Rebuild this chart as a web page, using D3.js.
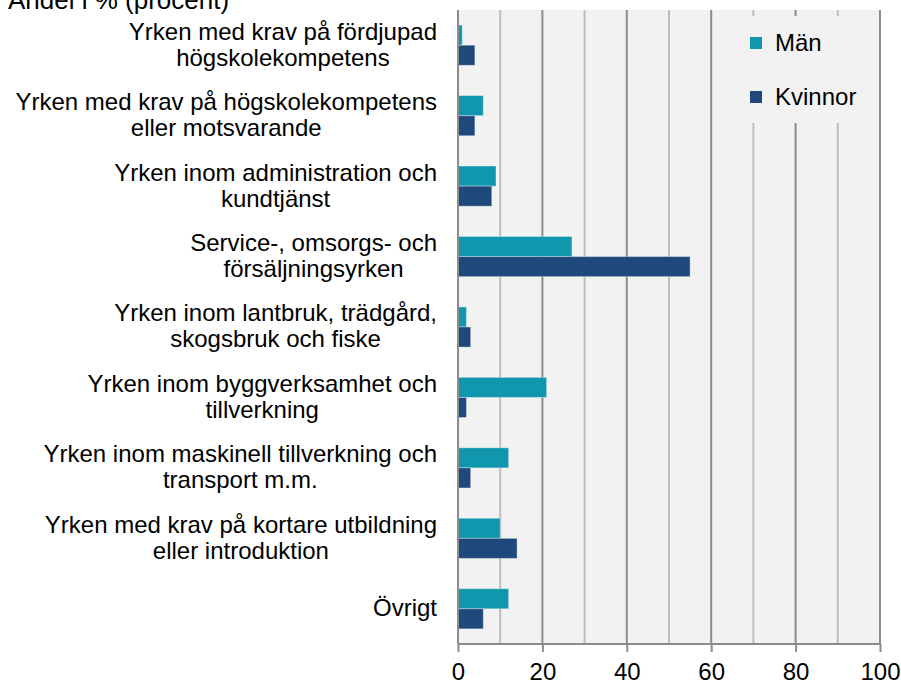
<!DOCTYPE html>
<html>
<head>
<meta charset="utf-8">
<script src="https://cdn.jsdelivr.net/npm/d3@7"></script>
<style>
  html, body { margin: 0; padding: 0; background: #ffffff; }
  svg { display: block; font-family: "Liberation Sans", Arial, sans-serif; }
</style>
</head>
<body>
<svg id="chart" width="901" height="684"></svg>
<script>
// Yrkesgrupper (två rader per etikett)
const categories = [
  ["Yrken med krav på fördjupad", "högskolekompetens"],
  ["Yrken med krav på högskolekompetens", "eller motsvarande"],
  ["Yrken inom administration och", "kundtjänst"],
  ["Service-, omsorgs- och", "försäljningsyrken"],
  ["Yrken inom lantbruk, trädgård,", "skogsbruk och fiske"],
  ["Yrken inom byggverksamhet och", "tillverkning"],
  ["Yrken inom maskinell tillverkning och", "transport m.m."],
  ["Yrken med krav på kortare utbildning", "eller introduktion"],
  ["Övrigt"]
];
const seriesNames = ["Män", "Kvinnor"];
const men   = [1, 6, 9, 27, 2, 21, 12, 10, 12];
const women = [4, 4, 8, 55, 3, 2, 3, 14, 6];
const xTicks = [0, 20, 40, 60, 80, 100];
const gridValues = [10, 20, 30, 40, 50, 60, 70, 80, 90, 100];
const titleText = "Andel i % (procent)";

const colors = { "Män": "#1097ad", "Kvinnor": "#1f497d" };

const svg = d3.select("#chart");
const plot = { left: 458, right: 880, top: 10, bottom: 644 };
const fontSize = 24;

const x = d3.scaleLinear().domain([0, 100]).range([plot.left, plot.right]);
const y = d3.scaleBand().domain(d3.range(categories.length))
  .range([plot.top, plot.bottom]).paddingInner(0.43).paddingOuter(0.215);
const ySub = d3.scaleBand().domain(seriesNames).range([0, y.bandwidth()]);

// plot background
svg.append("rect")
  .attr("x", plot.left).attr("y", plot.top)
  .attr("width", plot.right - plot.left).attr("height", plot.bottom - plot.top)
  .attr("fill", "#f2f2f2");

// vertical gridlines
svg.append("g").selectAll("line").data(gridValues).join("line")
  .attr("x1", d => x(d)).attr("x2", d => x(d))
  .attr("y1", plot.top).attr("y2", plot.bottom)
  .attr("stroke", d => d % 20 === 0 ? "#8c8c8c" : "#bdbdbd")
  .attr("stroke-width", 2);

// legend box (covers gridlines)
const legend = svg.append("g");
legend.append("rect")
  .attr("x", 730).attr("y", 16).attr("width", 146).attr("height", 107)
  .attr("fill", "#f2f2f2");
seriesNames.forEach((name, i) => {
  const ly = 43 + i * 54;
  legend.append("rect")
    .attr("x", 750).attr("y", ly - 6).attr("width", 12).attr("height", 12)
    .attr("fill", colors[name]);
  legend.append("text")
    .attr("x", 775).attr("y", ly).attr("dy", "0.35em")
    .attr("font-size", fontSize).attr("fill", "#000")
    .text(name);
});

// bars
const groups = svg.append("g").selectAll("g").data(categories).join("g")
  .attr("transform", (d, i) => `translate(0,${y(i)})`);
groups.each(function(d, i) {
  const g = d3.select(this);
  const vals = [{ s: "Män", v: men[i] }, { s: "Kvinnor", v: women[i] }];
  g.selectAll("rect").data(vals).join("rect")
    .attr("x", x(0))
    .attr("y", v => ySub(v.s))
    .attr("width", v => x(v.v) - x(0))
    .attr("height", ySub.bandwidth())
    .attr("fill", v => colors[v.s])
    .attr("stroke", "#ffffff").attr("stroke-opacity", 0.35).attr("stroke-width", 1);
});

// left axis line
svg.append("line")
  .attr("x1", x(0)).attr("x2", x(0)).attr("y1", plot.top).attr("y2", plot.bottom)
  .attr("stroke", "#8c8c8c").attr("stroke-width", 2);

// bottom axis
const xAxis = svg.append("g")
  .attr("transform", `translate(0,${plot.bottom})`)
  .call(d3.axisBottom(x).tickValues(xTicks).tickSize(8).tickPadding(11).tickFormat(d3.format("d")));
xAxis.select(".domain").attr("stroke", "#8c8c8c").attr("stroke-width", 2)
  .attr("d", `M${plot.left},0H${plot.right}`);
xAxis.selectAll(".tick line").attr("stroke", "#8c8c8c").attr("stroke-width", 2);
xAxis.selectAll(".tick text").attr("font-size", fontSize).attr("fill", "#000")
  .attr("font-family", "Liberation Sans, Arial, sans-serif");

// category labels: lines centred on each other, block right-aligned
const labelRight = 437;
const lineGap = 26;
const labels = svg.append("g").attr("font-size", fontSize).attr("fill", "#000");
categories.forEach((lines, i) => {
  const cy = y(i) + y.bandwidth() / 2 - 1;
  const t = labels.append("text").attr("text-anchor", "middle");
  const spans = lines.map((ln, k) => t.append("tspan")
    .attr("y", cy + (k - (lines.length - 1) / 2) * lineGap)
    .attr("dy", "0.35em").text(ln));
  const maxW = d3.max(spans, s => s.node().getComputedTextLength());
  spans.forEach(s => s.attr("x", labelRight - maxW / 2));
});

// title (partly above the top edge)
svg.append("text")
  .attr("x", 8).attr("y", 9)
  .attr("font-size", 26).attr("fill", "#000")
  .text(titleText);
</script>
</body>
</html>
